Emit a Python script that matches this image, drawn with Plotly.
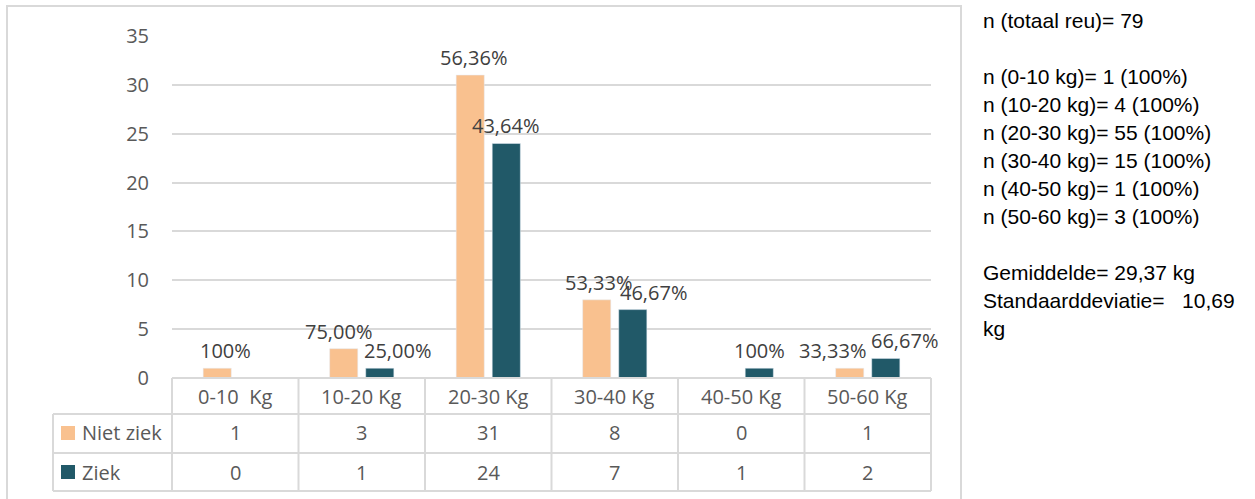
import plotly.graph_objects as go

# ---- data -------------------------------------------------------------
categories = ["0-10  Kg", "10-20 Kg", "20-30 Kg", "30-40 Kg", "40-50 Kg", "50-60 Kg"]
niet_ziek = [1, 3, 31, 8, 0, 1]
ziek = [0, 1, 24, 7, 1, 2]
niet_ziek_labels = ["100%", "75,00%", "56,36%", "53,33%", "", "33,33%"]
ziek_labels = ["", "25,00%", "43,64%", "46,67%", "100%", "66,67%"]
y_ticks = [0, 5, 10, 15, 20, 25, 30, 35]
side_notes = [
    "n (totaal reu)= 79",
    "",
    "n (0-10 kg)= 1 (100%)",
    "n (10-20 kg)= 4 (100%)",
    "n (20-30 kg)= 55 (100%)",
    "n (30-40 kg)= 15 (100%)",
    "n (40-50 kg)= 1 (100%)",
    "n (50-60 kg)= 3 (100%)",
    "",
    "Gemiddelde= 29,37 kg",
    "Standaarddeviatie=   10,69",
    "kg",
]

# ---- styling ----------------------------------------------------------
PEACH = "#F9C18F"
TEAL = "#215968"
GRID = "#D9D9D9"
TXT = "#595959"
LBL = "#404040"
FONT = "Open Sans, sans-serif"
FS = 20

W_FIG, H_FIG = 1255, 499
PL, PR, PT, PB = 172, 931, 36, 378   # plot area edges in pixels
PW, PH = PR - PL, PB - PT


def px(x):
    return (x - PL) / PW


def py(y):
    return (PB - y) / PH


fig = go.Figure()
fig.add_bar(x=categories, y=niet_ziek, name="Niet ziek", marker_color=PEACH)
fig.add_bar(x=categories, y=ziek, name="Ziek", marker_color=TEAL)

annotations = []

# percentage labels above the bars (nudged sideways like the data labels of the source sheet)
nudge_nz = [8, -5, 3, 2, 0, -17]
nudge_z = [0, 18, -1, 21, 0, 19]
for i, cat in enumerate(categories):
    for vals, labels, off, nudge in (
        (niet_ziek, niet_ziek_labels, -18, nudge_nz),
        (ziek, ziek_labels, 18, nudge_z),
    ):
        if labels[i]:
            annotations.append(dict(
                x=cat, y=vals[i], xref="x", yref="y", text=labels[i],
                showarrow=False, yanchor="bottom", xanchor="center",
                xshift=off + nudge[i], yshift=2,
                font=dict(family=FONT, size=FS, color=LBL),
            ))

# data table under the plot
row_top = [378, 414, 453, 491]
col_w = PW / len(categories)
shapes = []
line = dict(color=GRID, width=2)
# horizontal rules
shapes.append(dict(type="line", xref="paper", yref="paper",
                   x0=px(PL), x1=px(PR), y0=py(row_top[0]), y1=py(row_top[0]), line=line))
for y in row_top[1:]:
    shapes.append(dict(type="line", xref="paper", yref="paper",
                       x0=px(53), x1=px(PR), y0=py(y), y1=py(y), line=line))
# vertical rules
for k in range(len(categories) + 1):
    xx = PL + k * col_w
    shapes.append(dict(type="line", xref="paper", yref="paper",
                       x0=px(xx), x1=px(xx), y0=py(row_top[0]), y1=py(row_top[-1]), line=line))
shapes.append(dict(type="line", xref="paper", yref="paper",
                   x0=px(53), x1=px(53), y0=py(row_top[1]), y1=py(row_top[-1]), line=line))
# outer chart frame
shapes.append(dict(type="rect", xref="paper", yref="paper",
                   x0=px(7), x1=px(961), y0=py(510), y1=py(6),
                   line=dict(color=GRID, width=2), fillcolor="rgba(0,0,0,0)"))

# table header and cell values
for i, cat in enumerate(categories):
    cx = PL + (i + 0.5) * col_w
    for txt, yc in ((cat, 396), (str(niet_ziek[i]), 433), (str(ziek[i]), 472)):
        annotations.append(dict(
            x=px(cx), y=py(yc), xref="paper", yref="paper", text=txt,
            showarrow=False, xanchor="center", yanchor="middle",
            font=dict(family=FONT, size=FS, color=TXT),
        ))

# legend keys in the table
for name, color, yc in (("Niet ziek", PEACH, 433), ("Ziek", TEAL, 472)):
    shapes.append(dict(type="rect", xref="paper", yref="paper",
                       x0=px(61), x1=px(75), y0=py(yc + 7), y1=py(yc - 7),
                       line=dict(width=0), fillcolor=color))
    annotations.append(dict(
        x=px(80), y=py(yc), xref="paper", yref="paper", text=name,
        showarrow=False, xanchor="left", yanchor="middle",
        font=dict(family=FONT, size=FS, color=TXT),
    ))

# summary notes to the right of the chart
for j, note in enumerate(side_notes):
    if note:
        annotations.append(dict(
            x=px(981), y=py(20 + 28 * j), xref="paper", yref="paper", text=note,
            showarrow=False, xanchor="left", yanchor="middle",
            font=dict(family="Liberation Sans, Arial, sans-serif", size=21, color="#000000"),
        ))

fig.update_layout(
    width=W_FIG, height=H_FIG,
    margin=dict(l=PL, r=W_FIG - PR, t=PT, b=H_FIG - PB, pad=0),
    paper_bgcolor="white", plot_bgcolor="white",
    barmode="group", bargap=0.43, bargroupgap=0.22,
    showlegend=False,
    font=dict(family=FONT, size=FS, color=TXT),
    xaxis=dict(type="category", range=[-0.5, 5.5], showticklabels=False,
               showgrid=False, showline=False, zeroline=False, fixedrange=True),
    yaxis=dict(range=[0, 35], tickvals=y_ticks, showgrid=True, gridcolor=GRID,
               gridwidth=2, zeroline=False, showline=False,
               ticklabelstandoff=22, tickfont=dict(family=FONT, size=FS, color=TXT)),
    shapes=shapes,
    annotations=annotations,
)

fig.write_html("out.html")
